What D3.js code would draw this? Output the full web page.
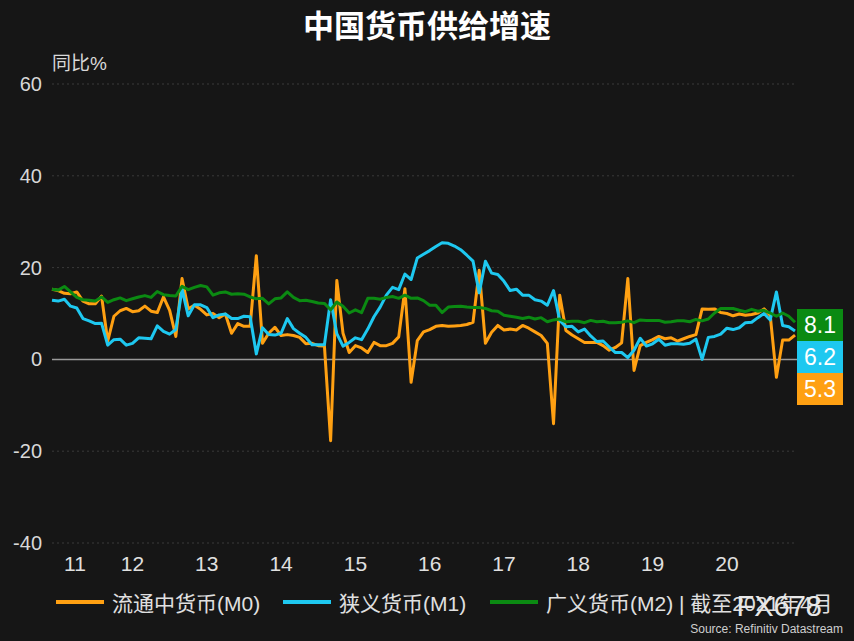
<!DOCTYPE html>
<html><head><meta charset="utf-8">
<script src="https://cdn.jsdelivr.net/npm/d3@7"></script>
<style>
body{margin:0;background:#161616;}
text{font-family:"Liberation Sans","Noto Sans CJK SC",sans-serif;}
</style></head>
<body><svg id="chart" width="854" height="641"></svg>
<script>
// monthly, Apr 2011 .. Apr 2021
var m0 = [15.3,15.0,14.4,14.3,14.7,12.7,12.1,12.1,13.8,
  4.0,9.4,10.6,11.1,10.4,10.6,11.6,10.5,10.2,13.6,10.7,5.0,
  17.6,11.0,11.8,10.9,9.7,10.0,9.1,9.9,5.7,7.8,7.2,7.2,
  22.6,3.5,5.7,7.0,5.2,5.4,5.2,4.8,3.4,3.5,3.0,2.9,
  -17.7,17.2,5.7,1.5,3.0,2.5,1.5,3.7,3.0,3.0,3.5,4.9,
  15.4,-5.0,4.1,6.0,6.5,7.2,7.4,7.2,7.3,7.4,7.6,8.1,
  19.4,3.5,5.9,7.4,6.4,6.6,6.4,7.4,6.8,6.0,5.2,3.5,
  -14.0,14.0,6.3,5.3,4.5,3.7,3.7,3.7,3.0,2.0,2.6,3.6,
  17.6,-2.4,3.0,3.7,4.3,5.0,4.5,4.7,4.0,4.5,5.0,5.4,
  11.0,10.9,11.0,10.2,10.0,9.5,9.9,9.6,9.8,10.1,11.0,9.6,
  -3.9,4.2,4.2,5.3];
var m1 = [12.9,12.7,13.1,11.6,11.2,8.9,8.4,7.8,7.9,
  3.1,4.3,4.4,3.1,3.5,4.7,4.6,4.5,7.3,6.1,5.5,6.5,
  15.3,9.5,11.9,11.9,11.3,9.1,9.7,9.9,8.9,8.9,9.4,9.3,
  1.2,6.9,5.4,5.3,5.7,8.9,6.7,5.7,4.8,3.2,3.2,3.2,
  13.0,5.6,2.9,3.7,4.7,4.3,6.6,9.3,11.4,14.0,15.7,15.2,
  18.6,17.4,22.1,22.9,23.7,24.6,25.4,25.3,24.7,23.9,22.7,21.4,
  14.5,21.4,18.8,18.5,17.0,15.0,15.3,14.0,14.0,13.0,12.7,11.8,
  15.0,8.5,7.1,7.2,6.0,6.6,5.1,3.9,4.0,2.7,1.5,1.5,
  0.4,2.0,4.6,2.9,3.4,4.4,3.1,3.4,3.4,3.3,3.5,4.4,
  0.0,4.8,5.0,5.5,6.8,6.5,6.9,8.0,8.1,9.1,10.0,8.6,
  14.7,7.4,7.1,6.2];
var m2 = [15.3,15.1,15.9,14.7,13.5,13.0,12.9,12.7,13.6,
  12.4,13.0,13.4,12.8,13.2,13.6,13.9,13.5,14.8,14.1,13.9,13.8,
  15.9,15.2,15.7,16.1,15.8,14.0,14.5,14.7,14.2,14.3,14.2,13.6,
  13.2,13.3,12.1,13.2,13.4,14.7,13.5,12.8,12.9,12.6,12.3,12.2,
  10.8,12.5,11.6,10.1,10.8,10.2,13.3,13.3,13.1,13.5,13.7,13.3,
  14.0,13.3,13.4,12.8,11.8,11.8,10.2,11.4,11.5,11.6,11.4,11.3,
  11.3,11.1,10.6,10.5,9.6,9.4,9.2,8.9,9.2,8.8,9.1,8.2,
  8.6,8.8,8.2,8.3,8.3,8.0,8.5,8.2,8.3,8.0,8.0,8.1,
  8.4,8.0,8.6,8.5,8.5,8.5,8.1,8.2,8.4,8.4,8.2,8.7,
  8.4,8.8,10.1,11.1,11.1,11.1,10.7,10.4,10.9,10.5,10.7,10.1,
  9.4,10.1,9.4,8.1];
var yTicks = [60, 40, 20, 0, -20, -40];
var yearLabels = ["11","12","13","14","15","16","17","18","19","20"];
var seriesNames = ["流通中货币(M0)", "狭义货币(M1)", "广义货币(M2) | 截至2021年4月"];
var colors = ["#ffa012", "#1ec8f0", "#0b8a12"];

var svg = d3.select("#chart");
svg.append("rect").attr("width", 854).attr("height", 641).attr("fill", "#161616");

var x = d3.scaleLinear().domain([0, m0.length - 1]).range([52, 795]);
var y = d3.scaleLinear().domain([-40, 60]).range([543, 84]);

// grid
yTicks.forEach(function(t){
  svg.append("line")
    .attr("x1", 52).attr("x2", 797).attr("y1", y(t)).attr("y2", y(t))
    .attr("stroke", t === 0 ? "#9a9a9a" : "#3a3a3a")
    .attr("stroke-width", t === 0 ? 1.5 : 1)
    .attr("stroke-dasharray", t === 0 ? null : "2,3");
  svg.append("text").attr("x", 42).attr("y", y(t) + 7)
    .attr("text-anchor", "end").attr("fill", "#d8d8d8").attr("font-size", 20)
    .text(t);
});

// year labels, mid-year, first one kept off the edge
yearLabels.forEach(function(lbl, i){
  var idx = i * 12 + 1;
  svg.append("text").attr("x", Math.max(x(idx), 75)).attr("y", 571)
    .attr("text-anchor", "middle").attr("fill", "#e0e0e0").attr("font-size", 21)
    .text(lbl);
});

var line = d3.line()
  .x(function(d, i){ return x(i); })
  .y(function(d){ return y(d); });

[m0, m1, m2].forEach(function(s, k){
  svg.append("path").datum(s)
    .attr("fill", "none").attr("stroke", colors[k]).attr("stroke-width", 3)
    .attr("stroke-linejoin", "round").attr("d", line);
});

// end value boxes
var boxes = [[m2, colors[2]], [m1, colors[1]], [m0, colors[0]]];
boxes.forEach(function(b, i){
  var top = 309 + i * 32;
  svg.append("rect").attr("x", 797).attr("y", top).attr("width", 46).attr("height", 32)
    .attr("fill", b[1]);
  svg.append("text").attr("x", 820).attr("y", top + 24)
    .attr("text-anchor", "middle").attr("fill", "#fff").attr("font-size", 23)
    .text(b[0][b[0].length - 1].toFixed(1));
});

// title
svg.append("text").attr("x", 427).attr("y", 37).attr("text-anchor", "middle")
  .attr("fill", "#fff").attr("font-size", 31).attr("font-weight", "bold")
  .text("中国货币供给增速");
svg.append("text").attr("x", 52).attr("y", 70).attr("fill", "#d8d8d8")
  .attr("font-size", 19).text("同比%");

// legend
var legX = [56, 283, 490];
seriesNames.forEach(function(n, i){
  svg.append("line").attr("x1", legX[i]).attr("x2", legX[i] + 48)
    .attr("y1", 602).attr("y2", 602).attr("stroke", colors[i]).attr("stroke-width", 4);
  svg.append("text").attr("x", legX[i] + 56).attr("y", 611)
    .attr("fill", "#e0e0e0").attr("font-size", 21).text(n);
});
svg.append("text").attr("x", 822).attr("y", 616).attr("text-anchor", "end")
  .attr("fill", "#e8e8e8").attr("font-size", 29).text("FX678");
svg.append("text").attr("x", 843).attr("y", 633).attr("text-anchor", "end")
  .attr("fill", "#cfcfcf").attr("font-size", 12).text("Source: Refinitiv Datastream");
</script></body></html>
